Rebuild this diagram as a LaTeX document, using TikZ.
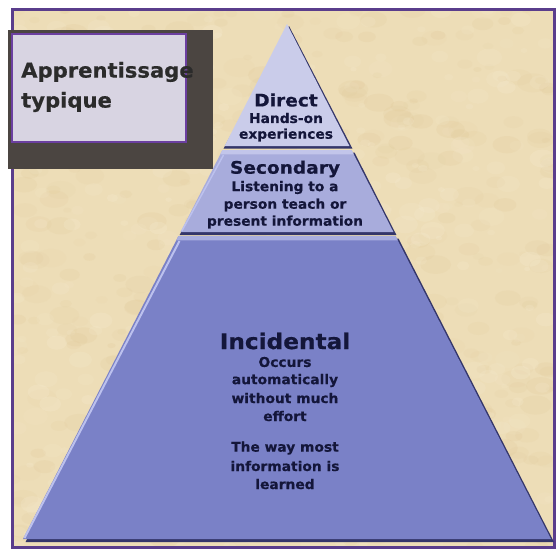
\documentclass[tikz,border=0pt]{standalone}
\usepackage{fontspec}
\setmainfont{DejaVu Sans}
\newfontfamily\tierfont[FakeStretch=1.08,FakeBold=0.6]{DejaVu Sans Bold}
\newfontfamily\linefont[FakeStretch=1.03,FakeBold=0.5]{DejaVu Sans Bold}
\newfontfamily\labfont[FakeStretch=1.03,FakeBold=0.6]{DejaVu Sans Bold}
\usetikzlibrary{calc}
\definecolor{parch}{HTML}{EDDDB7}
\definecolor{blotA}{HTML}{DCC28E}
\definecolor{blotB}{HTML}{F7EDD4}
\definecolor{framec}{HTML}{5A3D8C}
\definecolor{tierA}{HTML}{CACCEA}
\definecolor{tierB}{HTML}{A8ACDC}
\definecolor{tierC}{HTML}{7A81C7}
\definecolor{stripB}{HTML}{C2C5EA}
\definecolor{stripC}{HTML}{A9AEE0}
\definecolor{shade}{HTML}{34366A}
\definecolor{hilite}{HTML}{BCC1EE}
\definecolor{txt}{HTML}{14163A}
\definecolor{labdark}{HTML}{4B4541}
\definecolor{labfill}{HTML}{D8D4E2}
\definecolor{labedge}{HTML}{6B3FA0}
\definecolor{labtxt}{HTML}{2B2B2B}
\tikzset{
  tiertitle/.style={font=\tierfont\fontsize{17.2}{17.2}\selectfont, text=txt, inner sep=0pt},
  bigtitle/.style={font=\tierfont\fontsize{21.5}{21.5}\selectfont, text=txt, inner sep=0pt},
  tierline/.style={font=\linefont\fontsize{13.4}{13.4}\selectfont, text=txt, inner sep=0pt},
  labline/.style={font=\labfont\fontsize{20.5}{20.5}\selectfont, text=labtxt, inner sep=0pt, anchor=west},
  shadowpoly/.style={fill=shade},
}
\begin{document}
\begin{tikzpicture}[x=1pt,y=-1pt]
\useasboundingbox (0,0) rectangle (557,549);
\fill[white] (0,0) rectangle (557,549);
% parchment background
\fill[parch] (12,9) rectangle (554,547);
\begin{scope}
\clip (12,9) rectangle (554,547);
\pgfmathsetseed{11}
\foreach \i in {1,...,500}{
  \pgfmathsetmacro{\bx}{12+542*rnd}
  \pgfmathsetmacro{\by}{9+538*rnd}
  \pgfmathsetmacro{\br}{4+12*rnd}
  \pgfmathsetmacro{\bo}{0.05+0.12*rnd}
  \fill[blotA, opacity=\bo] (\bx,\by) ellipse ({\br} and {0.6*\br});
}
\foreach \i in {1,...,400}{
  \pgfmathsetmacro{\bx}{12+542*rnd}
  \pgfmathsetmacro{\by}{9+538*rnd}
  \pgfmathsetmacro{\br}{3+10*rnd}
  \pgfmathsetmacro{\bo}{0.08+0.15*rnd}
  \fill[blotB, opacity=\bo] (\bx,\by) ellipse ({\br} and {0.7*\br});
}
\end{scope}
\draw[framec, line width=3] (12,9) rectangle (554,547);

% pyramid corner coordinates
\coordinate (apex) at (287,24);
\coordinate (t1l) at (224.6,146);
\coordinate (t1r) at (349.4,146);
\coordinate (t2tl) at (222.5,150);
\coordinate (t2tr) at (351.5,150);
\coordinate (t2bl) at (180.6,232);
\coordinate (t2br) at (393.4,232);
\coordinate (t3tl) at (178.5,236);
\coordinate (t3tr) at (395.5,236);
\coordinate (t3bl) at (23,539);
\coordinate (t3br) at (551,539);

% tier 3 (bottom)
\fill[shadowpoly] ($(t3tl)+(2.5,2.5)$) -- ($(t3tr)+(3,2.5)$) -- ($(t3br)+(3,3)$) -- ($(t3bl)+(2.5,3)$) -- cycle;
\fill[tierC] (t3tl) -- (t3tr) -- (t3br) -- (t3bl) -- cycle;
\fill[stripC] (t3tl) -- (t3tr) -- ($(t3tr)!5pt!(t3br)$) -- ($(t3tl)!5pt!(t3bl)$) -- cycle;
\draw[hilite, line width=2] ($(t3tl)+(1,5)$) -- ($(t3bl)+(1.5,-1)$);

% tier 2 (middle)
\fill[shadowpoly] ($(t2tl)+(2.5,2.5)$) -- ($(t2tr)+(3,2.5)$) -- ($(t2br)+(3,3)$) -- ($(t2bl)+(-1,3)$) -- cycle;
\fill[tierB] (t2tl) -- (t2tr) -- (t2br) -- (t2bl) -- cycle;
\fill[stripB] (t2tl) -- (t2tr) -- ($(t2tr)!5pt!(t2br)$) -- ($(t2tl)!5pt!(t2bl)$) -- cycle;
\draw[hilite, line width=1.5] ($(t2tl)+(1,5)$) -- ($(t2bl)+(1.2,-1)$);

% tier 1 (top)
\fill[shadowpoly] ($(apex)+(2,2)$) -- ($(t1r)+(3,2.5)$) -- ($(t1l)+(-1,2.5)$) -- cycle;
\fill[tierA] (apex) -- (t1r) -- (t1l) -- cycle;

% tier texts
\node[tiertitle] (dir) at (286,100) {Direct};
\node[tierline] (dir1) at (286,118) {Hands-on};
\node[tierline] (dir2) at (286,135) {experiences};

\node[tiertitle] (sec) at (285,169) {Secondary};
\node[tierline] (sec1) at (285,187.5) {Listening to a};
\node[tierline] (sec2) at (285,205) {person teach or};
\node[tierline] (sec3) at (285,222) {present information};

\node[bigtitle] (inc) at (285,341) {Incidental};
\node[tierline] (inc1) at (285,362) {Occurs};
\node[tierline] (inc2) at (285,380.5) {automatically};
\node[tierline] (inc3) at (285,398) {without much};
\node[tierline] (inc4) at (285,416) {effort};
\node[tierline] (inc5) at (285,448) {The way most};
\node[tierline] (inc6) at (285,466) {information is};
\node[tierline] (inc7) at (285,484) {learned};

% label box
\fill[labdark] (8,30) rectangle (213,169);
\filldraw[fill=labfill, draw=labedge, line width=2] (12,34) rectangle (186,142);
\node[labline] (lab1) at (21,72) {Apprentissage};
\node[labline] (lab2) at (21,102) {typique};
\end{tikzpicture}
\end{document}
